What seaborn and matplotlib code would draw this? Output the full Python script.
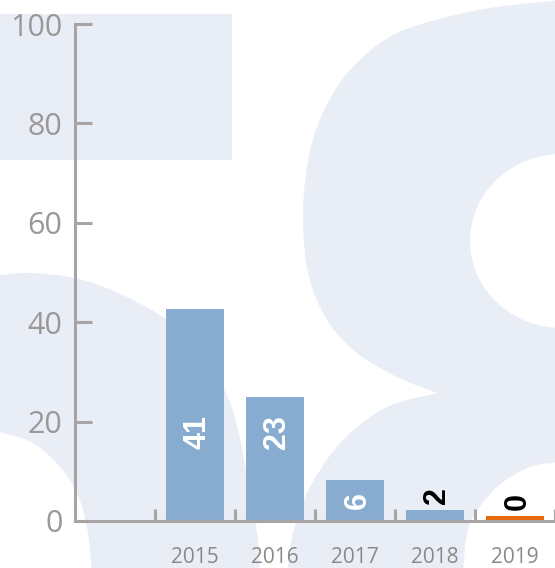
import numpy as np
import pandas as pd
import matplotlib
matplotlib.use('Agg')
import matplotlib.pyplot as plt
from matplotlib.patches import Polygon, Ellipse, Rectangle
from matplotlib.ticker import FixedLocator
import seaborn as sns

# ---- data ----
years = ['2015', '2016', '2017', '2018', '2019']
bar_heights = [42.7, 25.0, 8.3, 2.2, 1.0]
bar_labels = ['41', '23', '6', '2', '0']
bar_colors = ['#88abd0', '#88abd0', '#88abd0', '#88abd0', '#e8690c']
label_colors = ['white', 'white', 'white', 'black', 'black']
y_ticks = [0, 20, 40, 60, 80, 100]

sns.set_style('white')
plt.rcParams['font.family'] = ['Open Sans', 'DejaVu Sans']

W, H = 555, 568
fig = plt.figure(figsize=(W / 100, H / 100), dpi=100)
fig.patch.set_facecolor('white')

# ---- decorative background (watermark) ----
LIGHT = '#e9eef6'
bg = fig.add_axes([0, 0, 1, 1], zorder=0)
bg.set_xlim(0, W)
bg.set_ylim(H, 0)
bg.axis('off')


def smooth(pts, n=12):
    p = np.asarray(pts, float)
    p = np.vstack([p[0] * 2 - p[1], p, p[-1] * 2 - p[-2]])
    out = []
    for i in range(1, len(p) - 2):
        p0, p1, p2, p3 = p[i - 1], p[i], p[i + 1], p[i + 2]
        for t in np.linspace(0, 1, n, endpoint=False):
            t2, t3 = t * t, t * t * t
            out.append(0.5 * ((2 * p1) + (-p0 + p2) * t + (2 * p0 - 5 * p1 + 4 * p2 - p3) * t2
                              + (-p0 + 3 * p1 - 3 * p2 + p3) * t3))
    out.append(p[-2])
    return np.array(out)


bg.add_patch(Rectangle((0, 14), 232, 146, facecolor=LIGHT, edgecolor='none'))

outer = smooth([(560, 0), (497, 7), (447, 17), (397, 33), (363, 57), (337, 87), (317, 127),
                (307, 167), (303, 217), (308, 273), (327, 320), (357, 353), (397, 377), (437, 393)])
lower = smooth([(437, 393), (387, 407), (343, 440), (310, 487), (293, 533), (287, 572)])
right_shape = np.vstack([outer, lower, [(560, 572), (560, 0)]])
bg.add_patch(Polygon(right_shape, closed=True, facecolor=LIGHT, edgecolor='none'))
bg.add_patch(Ellipse((562, 241), 184, 174, facecolor='white', edgecolor='none'))
br = smooth([(463, 572), (466, 540), (473, 517), (497, 487), (530, 467), (560, 462)])
bg.add_patch(Polygon(np.vstack([br, [(560, 572)]]), closed=True, facecolor='white', edgecolor='none'))

c_outer = smooth([(0, 275), (33, 273), (83, 280), (133, 300), (177, 327), (207, 360), (227, 395),
                  (238, 430), (246, 470), (253, 510), (258, 540), (260, 572)])
c_inner = smooth([(92, 572), (87, 527), (77, 493), (60, 467), (33, 443), (0, 432)])
bg.add_patch(Polygon(np.vstack([c_outer, c_inner]), closed=True, facecolor=LIGHT, edgecolor='none'))

# ---- main chart ----
ax = fig.add_axes([75 / W, 47 / H, 480 / W, 497 / H], zorder=1)
ax.patch.set_alpha(0)

df = pd.DataFrame({'year': years, 'value': bar_heights})
sns.barplot(data=df, x='year', y='value', hue='year', palette=bar_colors, order=years,
            hue_order=years, width=0.72, saturation=1, legend=False, ax=ax, zorder=2,
            edgecolor='none', linewidth=0)

ax.set_xlim(-1.5, len(years) - 0.5)
ax.set_ylim(0, 100)
ax.set_xlabel('')
ax.set_ylabel('')

AX = '#a8a4a4'
for s in ['top', 'right']:
    ax.spines[s].set_visible(False)
for s in ['left', 'bottom']:
    ax.spines[s].set_color(AX)
    ax.spines[s].set_linewidth(2.2)
    ax.spines[s].set_zorder(3)

ax.set_yticks(y_ticks)
ax.set_yticklabels([str(v) for v in y_ticks])
ax.tick_params(axis='y', left=True, direction='in', length=12.5, width=2.2, color=AX, pad=9,
               labelsize=22, labelcolor='#9c9898')
ax.set_xticks(range(len(years)))
ax.set_xticklabels(years)
ax.tick_params(axis='x', which='major', bottom=True, length=0, pad=19, labelsize=15,
               labelcolor='#8c8888')
ax.xaxis.set_minor_locator(FixedLocator([i - 0.5 for i in range(len(years) + 1)]))
ax.tick_params(axis='x', which='minor', bottom=True, direction='in', length=8.5, width=2.2,
               color=AX)

for i, (h, lab, col) in enumerate(zip(bar_heights, bar_labels, label_colors)):
    if h >= 20:
        y, va = 14.5, 'bottom'
    elif h >= 5:
        y, va = h / 2, 'center'
    else:
        y, va = h + 1.3, 'bottom'
    ax.text(i + 0.03, y, lab, rotation=90, ha='center', va=va, color=col, fontsize=22,
            fontweight='bold', family=['Liberation Sans', 'DejaVu Sans'], zorder=4)

fig.savefig('out.png', dpi=100)
